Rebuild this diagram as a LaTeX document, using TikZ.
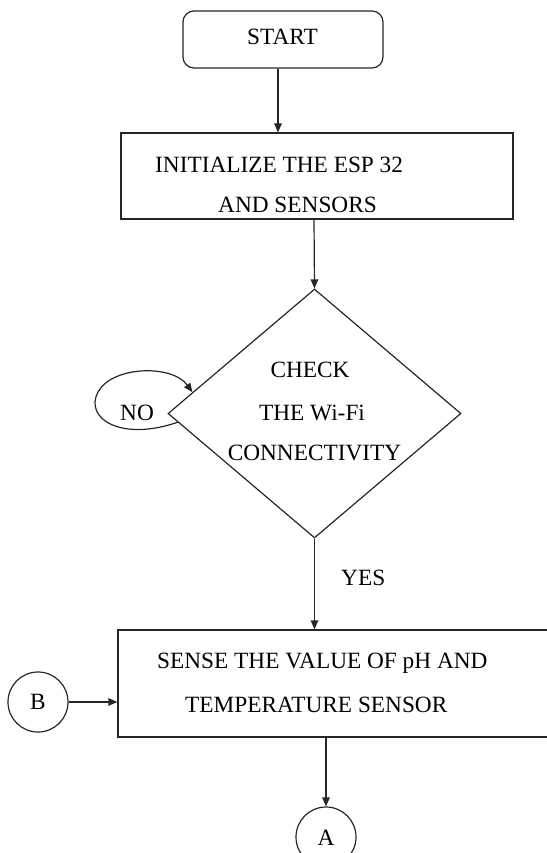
\documentclass[tikz,border=0pt]{standalone}
\usepackage{fontspec}
\setmainfont{Liberation Serif}
\usetikzlibrary{shapes.geometric,arrows.meta,calc}
\begin{document}
\begin{tikzpicture}[x=1pt,y=-1pt,
  every node/.style={font=\fontsize{23.3}{23.3}\selectfont},
  line/.style={draw=black!85,line width=1.2pt},
  arr/.style={line,-{Triangle[length=9pt,width=7.5pt]}},
  boxnode/.style={line,rectangle,inner sep=0pt},
  txt/.style={inner sep=0pt}]
\useasboundingbox (0,0) rectangle (546,853);
% shapes
\node[boxnode,rounded corners=11pt,minimum width=200pt,minimum height=57pt] (start) at (283,39.5) {};
\node[txt,anchor=base] (tstart) at (282.5,45) {START};
\node[boxnode,minimum width=392pt,minimum height=86pt] (init) at (317,176) {};
\node[txt,anchor=base west] (tinit1) at (155,172) {INITIALIZE THE ESP 32};
\node[txt,anchor=base west] (tinit2) at (218,212) {AND SENSORS};
\node[line,diamond,minimum width=293pt,minimum height=249pt,inner sep=0pt] (dia) at (314.5,413.5) {};
\node[txt,anchor=base] (tdia1) at (310,377) {CHECK};
\node[txt,anchor=base] (tdia2) at (312,420) {THE Wi-Fi};
\node[txt,anchor=base] (tdia3) at (314.5,460) {CONNECTIVITY};
\node[txt,anchor=base west] (tno) at (120,420) {NO};
\node[txt,anchor=base west] (tyes) at (341,585) {YES};
\node[boxnode,minimum width=442pt,minimum height=107pt] (sense) at (339,683.5) {};
\node[txt,anchor=base west] (tsense1) at (157,668) {SENSE THE VALUE OF pH AND};
\node[txt,anchor=base west] (tsense2) at (185,712) {TEMPERATURE SENSOR};
\node[line,circle,minimum size=60pt,inner sep=0pt] (b) at (38,702) {};
\node[txt,anchor=base] (tb) at (38,709) {B};
\node[line,circle,minimum size=60pt,inner sep=0pt] (a) at (326,837) {};
\node[txt,anchor=base] (ta) at (326,845) {A};
% helper coordinates
\coordinate (c1) at (278,0);
\coordinate (c2) at (314,0);
\coordinate (noend) at ($(dia.west)!0.17!(dia.north)$);
\coordinate (nostart) at ($(dia.west)!0.07!(dia.south)$);
% connectors
\draw[arr] (start.south -| c1) -- (init.north -| c1);
\draw[arr] (init.south -| c2) -- (dia.north);
\draw[arr] (dia.south) -- (sense.north -| dia.south);
\draw[arr] (b.east) -- (b.east -| sense.west);
\draw[arr] (sense.south -| a.north) -- (a.north);
\draw[arr] (nostart) .. controls (120,442) and (84,418) .. (98,392)
  .. controls (112,366) and (172,364) .. (noend);
\end{tikzpicture}
\end{document}
